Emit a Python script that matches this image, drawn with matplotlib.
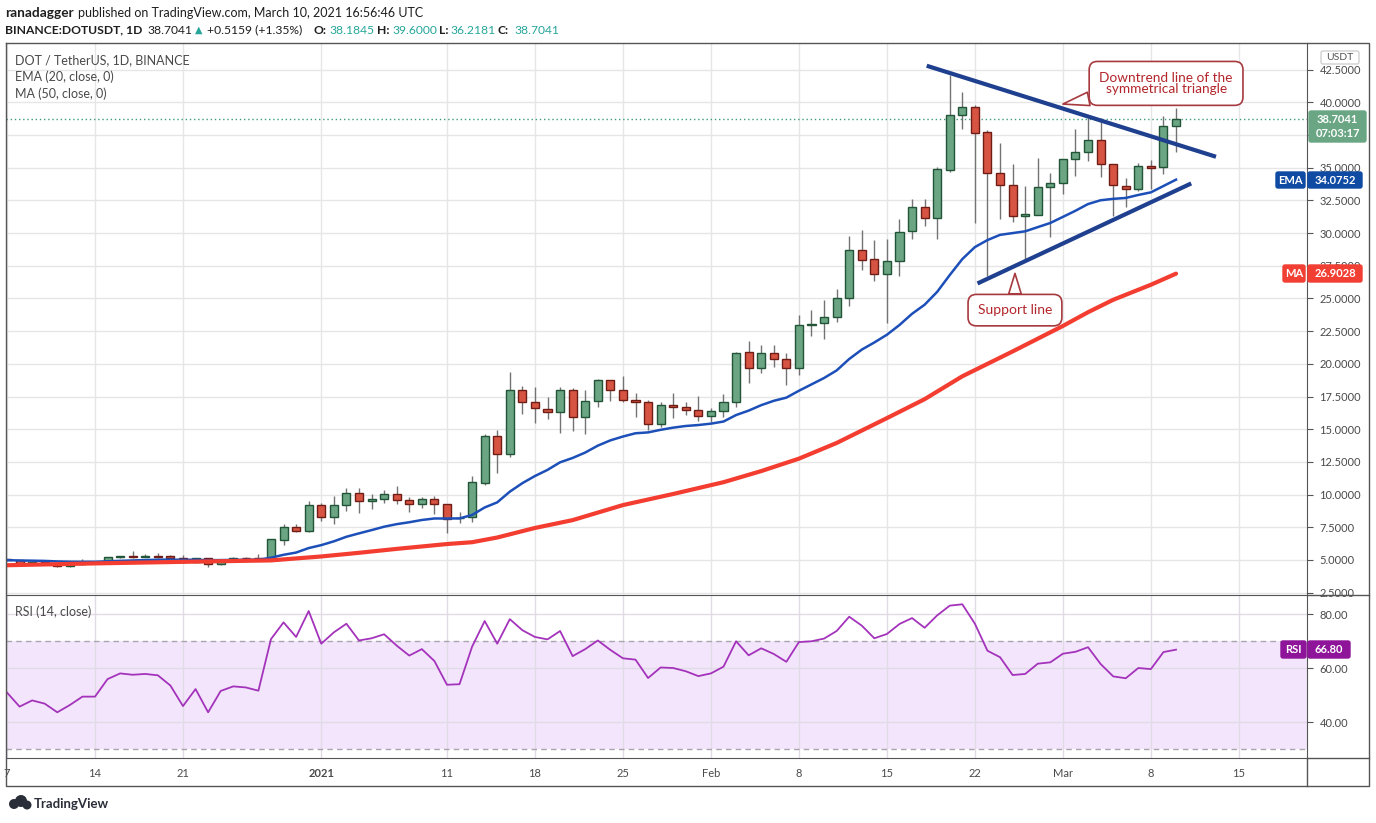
import matplotlib
matplotlib.use("Agg")
import matplotlib.pyplot as plt
import matplotlib.dates as mdates
from matplotlib.patches import FancyBboxPatch, Circle
from matplotlib.transforms import IdentityTransform
from matplotlib.lines import Line2D
import numpy as np
import pandas as pd

plt.rcParams['font.family'] = ['Lato', 'DejaVu Sans']

# daily candles, Dec 7 2020 .. Mar 10 2021
dates = pd.date_range("2020-12-07", "2021-03-10", freq="D")

opens = [5.05, 5.00, 4.67, 4.82, 4.72, 4.52, 4.67, 4.85, 4.85, 5.23,
         5.30, 5.26, 5.30, 5.28, 5.13, 4.82, 5.13, 4.67, 5.05, 5.17,
         5.17, 5.05, 6.50, 7.50, 7.20, 9.18, 8.27, 9.18, 10.10, 9.50,
         9.65, 10.02, 9.60, 9.27, 9.70, 9.26, 8.18, 8.27, 10.87, 14.46,
         13.13, 17.98, 17.07, 16.53, 16.35, 17.98, 15.97, 17.15, 18.75, 17.98,
         17.24, 17.07, 15.38, 16.84, 16.70, 16.51, 16.02, 16.43, 17.09, 20.87,
         19.65, 20.80, 20.34, 19.72, 22.94, 23.09, 23.55, 25.00, 28.68, 27.99,
         26.84, 27.84, 30.13, 31.97, 31.12, 34.80, 39.00, 39.62, 37.70, 34.57,
         33.65, 31.28, 31.40, 33.50, 33.80, 35.66, 36.17, 37.09, 35.26, 33.60,
         33.34, 35.10, 35.03, 38.1845]
highs = [5.10, 5.02, 4.85, 4.86, 4.75, 4.70, 5.05, 4.95, 5.25, 5.32,
         5.69, 5.45, 5.53, 5.35, 5.40, 5.18, 5.17, 5.07, 5.20, 5.25,
         5.47, 6.62, 7.78, 7.78, 9.50, 9.37, 9.88, 10.49, 10.49, 10.03,
         10.39, 10.64, 9.78, 9.80, 9.93, 9.30, 8.68, 11.41, 14.67, 14.95,
         19.38, 18.30, 18.20, 17.45, 18.20, 18.14, 17.99, 18.85, 18.80, 19.08,
         17.76, 17.20, 17.12, 17.76, 17.07, 17.53, 16.59, 17.68, 20.90, 21.74,
         21.43, 21.43, 20.84, 23.73, 24.10, 24.87, 25.71, 29.77, 30.23, 29.46,
         29.54, 31.07, 32.58, 32.58, 35.03, 42.09, 40.79, 39.82, 37.88, 36.91,
         35.28, 33.60, 35.72, 34.57, 35.70, 37.96, 38.78, 38.78, 35.30, 34.20,
         35.33, 35.59, 38.95, 39.60]
lows = [4.95, 4.65, 4.62, 4.70, 4.48, 4.48, 4.62, 4.80, 4.82, 5.15,
        5.15, 5.20, 5.18, 5.08, 4.78, 4.75, 4.50, 4.58, 5.00, 5.05,
        5.03, 5.00, 6.12, 7.15, 7.15, 7.99, 7.79, 8.75, 8.60, 8.90,
        9.37, 9.29, 8.68, 8.98, 8.52, 7.09, 7.84, 7.89, 10.75, 11.68,
        12.90, 16.20, 15.45, 15.80, 14.74, 14.87, 14.64, 16.71, 17.17, 17.05,
        15.94, 14.93, 15.18, 15.87, 16.07, 15.60, 15.54, 15.94, 16.71, 18.55,
        19.31, 19.77, 18.42, 19.14, 22.14, 21.87, 23.21, 24.44, 27.17, 26.35,
        23.14, 26.73, 29.54, 30.56, 29.52, 34.67, 37.98, 30.79, 26.73, 31.10,
        30.84, 27.99, 31.40, 29.67, 32.98, 34.38, 35.50, 34.30, 31.32, 32.00,
        33.20, 33.39, 34.54, 36.2181]
closes = [4.99, 4.69, 4.82, 4.75, 4.52, 4.67, 4.82, 4.88, 5.21, 5.28,
          5.25, 5.30, 5.25, 5.13, 4.82, 5.13, 4.67, 5.03, 5.15, 5.12,
          5.12, 6.58, 7.50, 7.20, 9.18, 8.27, 9.18, 10.10, 9.50, 9.65,
          10.02, 9.60, 9.27, 9.70, 9.27, 8.16, 8.25, 10.95, 14.46, 13.13,
          17.98, 17.07, 16.60, 16.35, 17.98, 15.97, 17.15, 18.75, 17.98, 17.24,
          17.07, 15.38, 16.84, 16.70, 16.45, 16.02, 16.43, 17.12, 20.80, 19.65,
          20.80, 20.34, 19.72, 22.94, 23.06, 23.55, 25.00, 28.68, 27.91, 26.84,
          27.84, 30.05, 31.97, 31.12, 34.87, 39.00, 39.62, 37.63, 34.57, 33.65,
          31.28, 31.43, 33.50, 33.80, 35.66, 36.17, 37.09, 35.26, 33.65, 33.34,
          35.10, 35.00, 38.21, 38.7041]

rsi = [50.9, 45.7, 48.0, 46.8, 43.6, 46.3, 49.4, 49.4, 55.9, 58.0,
       57.5, 57.8, 57.3, 53.5, 45.9, 52.2, 43.6, 51.5, 53.2, 52.8,
       51.6, 70.7, 76.9, 71.5, 81.1, 69.0, 73.2, 76.4, 70.2, 71.0,
       72.5, 68.3, 64.6, 67.0, 62.6, 53.8, 54.0, 67.9, 77.4, 69.0,
       78.1, 74.0, 71.5, 70.6, 73.7, 64.4, 67.0, 70.2, 66.7, 63.6,
       63.1, 56.3, 60.2, 60.0, 58.8, 57.0, 58.0, 60.5, 69.9, 64.7,
       67.3, 65.2, 62.3, 69.6, 69.9, 70.9, 73.7, 79.0, 75.7, 71.0,
       72.6, 76.3, 78.5, 74.9, 79.5, 83.1, 83.6, 76.4, 66.4, 64.0,
       57.4, 57.8, 61.6, 62.1, 65.3, 66.0, 67.7, 61.5, 56.9, 56.2,
       60.0, 59.6, 65.9, 66.8]

# 50-day MA
ma_dates = pd.to_datetime(["2020-12-07", "2020-12-14", "2020-12-21", "2020-12-28",
                           "2021-01-01", "2021-01-04", "2021-01-07", "2021-01-11",
                           "2021-01-13", "2021-01-15", "2021-01-18", "2021-01-21",
                           "2021-01-25", "2021-01-29", "2021-02-02", "2021-02-05",
                           "2021-02-08", "2021-02-11", "2021-02-15", "2021-02-18",
                           "2021-02-21", "2021-02-25", "2021-03-01", "2021-03-03",
                           "2021-03-05", "2021-03-08", "2021-03-10"])
ma_vals = [4.60, 4.74, 4.86, 4.97, 5.27, 5.55, 5.85, 6.22, 6.36, 6.72,
           7.45, 8.05, 9.20, 10.05, 10.95, 11.80, 12.75, 13.95, 15.85, 17.30,
           19.05, 20.95, 22.90, 23.95, 24.90, 26.05, 26.90]

# hand-drawn trend lines
down_line = (pd.to_datetime(["2021-02-18 04:00", "2021-03-13 04:20"]), [42.8, 35.84])
support_line = (pd.to_datetime(["2021-02-22 05:00", "2021-03-11 05:00"]), [26.15, 33.8])

tick_dates = pd.to_datetime(["2020-12-07", "2020-12-14", "2020-12-21", "2021-01-01",
                             "2021-01-11", "2021-01-18", "2021-01-25", "2021-02-01",
                             "2021-02-08", "2021-02-15", "2021-02-22", "2021-03-01",
                             "2021-03-08", "2021-03-15"])
tick_labels = ["7", "14", "21", "2021", "11", "18", "25", "Feb", "8", "15", "22",
               "Mar", "8", "15"]

W, H = 1376, 823
fig = plt.figure(figsize=(W / 100, H / 100), dpi=100)


def fx(px):
    return px / W


def fy(py):
    return 1 - py / H


ax = fig.add_axes([fx(6), fy(595.3), fx(1307) - fx(6), fy(43) - fy(595.3)])
ax2 = fig.add_axes([fx(6), fy(758.3), fx(1307) - fx(6), fy(595.3) - fy(758.3)], sharex=ax)

x = mdates.date2num(dates)
o = np.array(opens)
c = np.array(closes)
up = c >= o
grid_c = "#e6e6e6"
txt_c = "#4a4a4a"

# candles
ax.vlines(x, lows, highs, color="#737375", lw=1, zorder=2)
body_lo = np.minimum(o, c)
body_h = np.abs(c - o)
ax.bar(x[up], body_h[up], bottom=body_lo[up], width=0.64, color="#6ba583",
       edgecolor="#225437", lw=1, zorder=3)
ax.bar(x[~up], body_h[~up], bottom=body_lo[~up], width=0.64, color="#d75442",
       edgecolor="#6f1d15", lw=1, zorder=3)

ema = pd.Series(closes).ewm(span=20, adjust=False).mean()
ax.plot(x, ema, color="#1c4fb8", lw=1.8, zorder=4)
ax.plot(mdates.date2num(ma_dates), ma_vals, color="#f33d30", lw=3, zorder=4,
        solid_capstyle="round", solid_joinstyle="round")

ax.plot(mdates.date2num(down_line[0]), down_line[1], color="#1f3f8f", lw=3, zorder=5,
        solid_capstyle="butt")
ax.plot(mdates.date2num(support_line[0]), support_line[1], color="#1f3f8f", lw=3,
        zorder=5, solid_capstyle="butt")

ax.axhline(closes[-1], color="#3f9a78", lw=1, ls=(0, (1, 2)), zorder=1)

x0 = mdates.date2num(pd.Timestamp("2020-12-07"))
ax.set_xlim(x0 - 0.08, x0 + 103.42)
ax.set_ylim(2.30, 44.54)
yt = np.arange(2.5, 44, 2.5)
ax.set_yticks(yt)
# the 37.5 label sits under the last-price tag
ax.set_yticklabels(["" if abs(v - 37.5) < 0.01 else "%.4f" % v for v in yt])
ax.yaxis.tick_right()
ax.tick_params(axis="y", length=4, color="#555555", labelsize=8, labelcolor=txt_c, pad=5)
ax.tick_params(axis="x", length=0, labelbottom=False)
ax.set_xticks(mdates.date2num(tick_dates))
ax.grid(True, color=grid_c, lw=1)
ax.set_axisbelow(True)
for s in ["top", "left", "bottom"]:
    ax.spines[s].set_visible(False)
ax.spines["right"].set_color("#555555")

# RSI pane
ax2.axhspan(30, 70, color="#f3e6fc", zorder=0.2, lw=0)
ax2.axhline(70, color="#aaa4ae", lw=1, ls=(0, (4, 3)), zorder=1)
ax2.axhline(30, color="#aaa4ae", lw=1, ls=(0, (4, 3)), zorder=1)
ax2.plot(x, rsi, color="#a433bb", lw=1.3, zorder=3)
ax2.set_ylim(26.56, 86.93)
ax2.set_yticks([40, 60, 80])
ax2.set_yticklabels(["40.00", "60.00", "80.00"])
ax2.yaxis.tick_right()
ax2.tick_params(axis="y", length=4, color="#555555", labelsize=8, labelcolor=txt_c, pad=5)
ax2.set_xticks(mdates.date2num(tick_dates))
ax2.set_xticklabels(tick_labels)
ax2.tick_params(axis="x", length=0, labelsize=8, labelcolor=txt_c, pad=7)
for lab in ax2.get_xticklabels():
    if lab.get_text() == "2021":
        lab.set_fontweight("bold")
ax2.grid(True, color="#e1dbe6", lw=1, zorder=0.5)
ax2.set_axisbelow(True)
ax2.spines["left"].set_visible(False)
for s in ["top", "bottom", "right"]:
    ax2.spines[s].set_color("#555555")

# frame lines around panes and axes
frame = dict(color="#555555", lw=1, transform=fig.transFigure)
fig.add_artist(Line2D([fx(6), fx(1369), fx(1369), fx(6), fx(6)],
                      [fy(43), fy(43), fy(786), fy(786), fy(43)], **frame))
fig.add_artist(Line2D([fx(1307), fx(1369)], [fy(595.3), fy(595.3)], **frame))
fig.add_artist(Line2D([fx(1307), fx(1369)], [fy(758.3), fy(758.3)], **frame))
fig.add_artist(Line2D([fx(1307), fx(1307)], [fy(758.3), fy(786)], **frame))


def tag(x0p, y0p, x1p, y1p, fc, text, color="white", ec=None, bold=True, size=8):
    box = FancyBboxPatch((x0p, H - y1p), x1p - x0p, y1p - y0p,
                         boxstyle="round,pad=0,rounding_size=2",
                         fc=fc, ec=ec or fc, lw=1, transform=IdentityTransform(), zorder=10)
    fig.add_artist(box)
    if text:
        fig.text(fx((x0p + x1p) / 2), fy((y0p + y1p) / 2), text, ha="center", va="center",
                 color=color, fontsize=size, fontweight="bold" if bold else "normal", zorder=11)


tag(1321, 51, 1359, 64, "white", "USDT", color="#555555", ec="#d0d0d0", bold=False, size=7.5)
tag(1309, 111, 1366, 142, "#6aa684", "")
fig.text(fx(1337.5), fy(119.5), "38.7041", ha="center", va="center", color="white",
         fontsize=8, fontweight="bold", zorder=11)
fig.text(fx(1337.5), fy(133.5), "07:03:17", ha="center", va="center", color="white",
         fontsize=8, fontweight="bold", zorder=11)
tag(1276, 172, 1305, 188, "#0f4aa3", "EMA")
tag(1308, 172, 1362, 188, "#0f4aa3", "34.0752")
tag(1283, 265, 1305, 282, "#f23f33", "MA")
tag(1308, 265, 1362, 282, "#f23f33", "26.9028")
tag(1281, 641, 1306, 658, "#8e1599", "RSI")
tag(1308, 641, 1350, 658, "#8e1599", "66.80")

# pane legends
fig.text(fx(15), fy(60), "DOT / TetherUS, 1D, BINANCE", fontsize=9, color=txt_c, va="center")
fig.text(fx(15), fy(77), "EMA (20, close, 0)", fontsize=9, color=txt_c, va="center")
fig.text(fx(15), fy(94), "MA (50, close, 0)", fontsize=9, color=txt_c, va="center")
fig.text(fx(15), fy(612), "RSI (14, close)", fontsize=9, color=txt_c, va="center")

# header
hdr = "#1e1e1e"
teal = "#26a69a"
fig.text(fx(5), fy(13), "ranadagger", fontsize=9.8, fontweight="bold", color=hdr, va="center")
fig.text(fx(78.5), fy(13), "published on TradingView.com, March 10, 2021 16:56:46 UTC",
         fontsize=9.0, color=hdr, va="center")
hs = 8.7
fig.text(fx(5), fy(30), "BINANCE:DOTUSDT, 1D", fontsize=hs, fontweight="bold", color=hdr,
         va="center")
fig.text(fx(147), fy(30), "38.7041", fontsize=hs, color=hdr, va="center")
fig.text(fx(195), fy(30), "\u25B2", fontsize=7, color=teal, va="center",
         family=["DejaVu Sans"])
fig.text(fx(207), fy(30), "+0.5159 (+1.35%)", fontsize=hs, color=hdr, va="center")
for lab_x, lab, val_x, val in [(313, "O:", 329, "38.1845"), (377, "H:", 392, "39.6000"),
                               (439, "L:", 450, "36.2181"), (498, "C:", 514, "38.7041")]:
    fig.text(fx(lab_x), fy(30), lab, fontsize=hs, fontweight="bold", color=hdr, va="center")
    fig.text(fx(val_x), fy(30), val, fontsize=hs, color=teal, va="center")

# callouts
red_t = "#b3262b"
red_e = "#a73a3e"
ax.annotate("Support line", xy=(mdates.date2num(pd.Timestamp("2021-02-25 04:30")), 26.92),
            xytext=(mdates.date2num(pd.Timestamp("2021-02-25 04:30")), 24.11),
            ha="center", va="center", fontsize=10, color=red_t, zorder=12,
            bbox=dict(boxstyle="round,pad=0.7,rounding_size=0.6", fc="white", ec=red_e, lw=1.2),
            arrowprops=dict(arrowstyle="wedge,tail_width=0.9,shrink_factor=0.5", fc="white",
                            ec=red_e, lw=1.2, shrinkA=0, shrinkB=0))
ax.annotate("Downtrend line of the\nsymmetrical triangle",
            xy=(mdates.date2num(pd.Timestamp("2021-03-01 00:00")), 39.87),
            xytext=(mdates.date2num(pd.Timestamp("2021-03-09 05:00")), 41.45),
            ha="center", va="center", fontsize=9.8, color=red_t, zorder=12, linespacing=0.95,
            bbox=dict(boxstyle="round,pad=0.75,rounding_size=0.6", fc="white", ec=red_e, lw=1.2),
            arrowprops=dict(arrowstyle="wedge,tail_width=1.0,shrink_factor=0.5", fc="white",
                            ec=red_e, lw=1.2, shrinkA=0, shrinkB=0))

# TradingView mark
for cx, cy, r in [(14, 804, 5), (21, 801, 6), (27, 805, 4.5)]:
    fig.add_artist(Circle((cx, H - cy), r, transform=IdentityTransform(), fc="#2a2e39",
                          ec="none"))
fig.text(fx(34), fy(804), "TradingView", fontsize=9.5, fontweight="bold", color="#2a2e39",
         va="center")

fig.savefig("out.png", dpi=100)
